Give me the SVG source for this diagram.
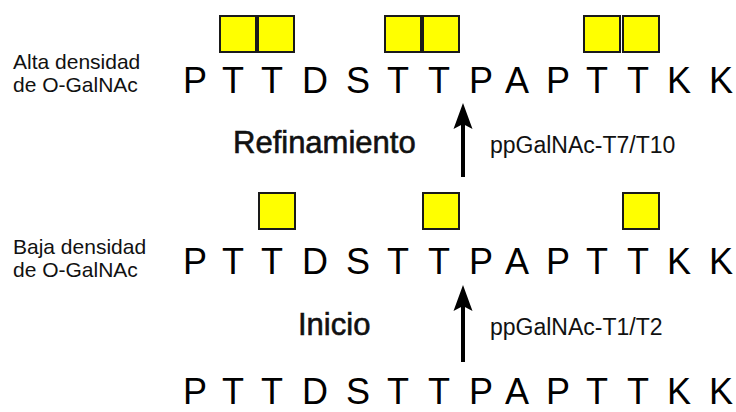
<svg xmlns="http://www.w3.org/2000/svg" width="736" height="412" viewBox="0 0 736 412">
<style>
.seq{font-family:"Liberation Sans",Arial,sans-serif;font-size:36px;fill:#000;text-anchor:middle}
.lab{font-family:"Liberation Sans",Arial,sans-serif;font-size:21px;fill:#111}
.big{font-family:"Liberation Sans",Arial,sans-serif;font-size:31px;fill:#111;stroke:#111;stroke-width:0.6}
.enz{font-family:"Liberation Sans",Arial,sans-serif;font-size:23px;fill:#111}
.sq{fill:#ffff00;stroke:#1a1a1a;stroke-width:2}
.arr{stroke:#000;stroke-width:4;fill:none;marker-end:url(#head)}
</style>
<defs>
<marker id="head" markerUnits="userSpaceOnUse" viewBox="-6 -10 28 20" refX="0" refY="0" markerWidth="28" markerHeight="20" orient="auto">
<path d="M21,0 L-5,-9.5 L0,0 L-5,9.5 Z" fill="#000"/>
</marker>
</defs>
<rect width="736" height="412" fill="#fff"/>

<g id="label-alta">
<text class="lab" x="13" y="69">Alta densidad</text>
<text class="lab" x="13" y="92">de O-GalNAc</text>
</g>
<g id="label-baja">
<text class="lab" x="13" y="254">Baja densidad</text>
<text class="lab" x="13" y="277">de O-GalNAc</text>
</g>

<g id="glycans-high">
<rect class="sq" x="220" y="16" width="36" height="36"/>
<rect class="sq" x="258" y="16" width="36" height="36"/>
<rect class="sq" x="385" y="16" width="36" height="36"/>
<rect class="sq" x="423" y="16" width="36" height="36"/>
<rect class="sq" x="584" y="16" width="36" height="36"/>
<rect class="sq" x="623" y="16" width="36" height="36"/>
</g>
<g id="glycans-low">
<rect class="sq" x="259" y="193" width="36" height="36"/>
<rect class="sq" x="423" y="193" width="36" height="36"/>
<rect class="sq" x="623" y="193" width="36" height="36"/>
</g>

<g id="seq-high">
<text class="seq" y="93"><tspan x="195">P</tspan><tspan x="233">T</tspan><tspan x="272">T</tspan><tspan x="315">D</tspan><tspan x="358">S</tspan><tspan x="398">T</tspan><tspan x="439">T</tspan><tspan x="481">P</tspan><tspan x="517">A</tspan><tspan x="558">P</tspan><tspan x="597">T</tspan><tspan x="638">T</tspan><tspan x="679">K</tspan><tspan x="721">K</tspan></text>
</g>
<g id="seq-low">
<text class="seq" y="274"><tspan x="195">P</tspan><tspan x="233">T</tspan><tspan x="272">T</tspan><tspan x="315">D</tspan><tspan x="358">S</tspan><tspan x="398">T</tspan><tspan x="439">T</tspan><tspan x="481">P</tspan><tspan x="517">A</tspan><tspan x="558">P</tspan><tspan x="597">T</tspan><tspan x="638">T</tspan><tspan x="679">K</tspan><tspan x="721">K</tspan></text>
</g>
<g id="seq-none">
<text class="seq" y="404"><tspan x="195">P</tspan><tspan x="233">T</tspan><tspan x="272">T</tspan><tspan x="315">D</tspan><tspan x="358">S</tspan><tspan x="398">T</tspan><tspan x="439">T</tspan><tspan x="481">P</tspan><tspan x="517">A</tspan><tspan x="558">P</tspan><tspan x="597">T</tspan><tspan x="638">T</tspan><tspan x="679">K</tspan><tspan x="721">K</tspan></text>
</g>

<g id="step-refinamiento">
<text class="big" x="233" y="153">Refinamiento</text>
<text class="enz" x="490" y="153">ppGalNAc-T7/T10</text>
</g>
<g id="step-inicio">
<text class="big" x="298" y="335">Inicio</text>
<text class="enz" x="490" y="335">ppGalNAc-T1/T2</text>
</g>

<g id="connectors">
<line class="arr" x1="463" y1="177" x2="463" y2="124"/>
<line class="arr" x1="463" y1="362" x2="463" y2="306"/>
</g>
</svg>
